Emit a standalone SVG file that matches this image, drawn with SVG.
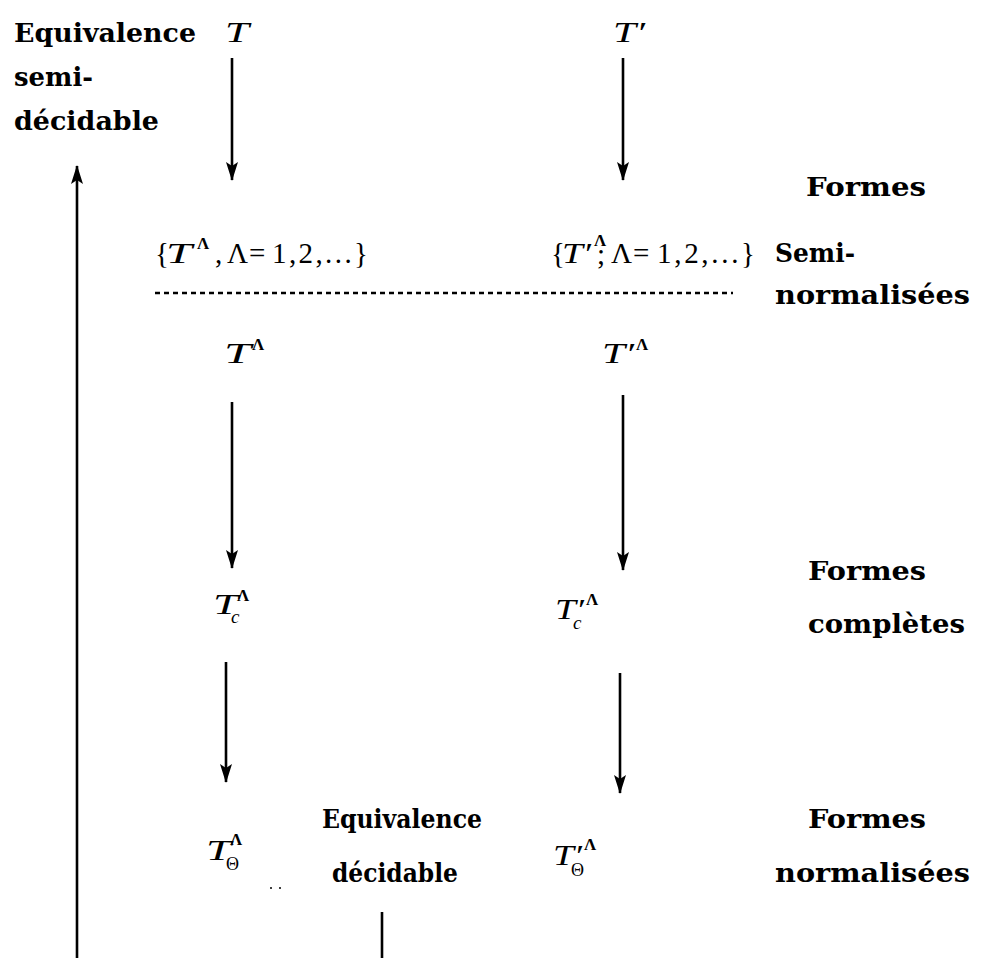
<svg xmlns="http://www.w3.org/2000/svg" width="992" height="958" viewBox="0 0 992 958">
<style>
.lbl{font-family:"DejaVu Serif","Liberation Serif",serif;font-weight:bold;font-size:26px;fill:#000}
.mi{font-family:"Liberation Serif",serif;font-style:italic;font-size:30px;fill:#000}
.mr{font-family:"Liberation Serif",serif;font-size:29px;fill:#000}
.sup{font-family:"Liberation Serif",serif;font-size:17px;font-weight:bold;fill:#000}
.sub{font-family:"Liberation Serif",serif;font-style:italic;font-size:19px;fill:#000}
.subr{font-family:"Liberation Serif",serif;font-size:18px;fill:#000}
.conn line{stroke:#000;stroke-width:2.6}
</style>
<defs>
<marker id="ah" viewBox="0 0 19 12" refX="18" refY="6" markerWidth="19" markerHeight="12" markerUnits="userSpaceOnUse" orient="auto">
<path d="M0,0 L4,6 L0,12 L19,6 Z" fill="#000"/>
</marker>
</defs>
<rect width="992" height="958" fill="#fff"/>

<g id="label-semidecidable">
<text class="lbl" x="14" y="42" textLength="182" lengthAdjust="spacingAndGlyphs">Equivalence</text>
<text class="lbl" x="14" y="86" textLength="79" lengthAdjust="spacingAndGlyphs">semi-</text>
<text class="lbl" x="14" y="130" textLength="145" lengthAdjust="spacingAndGlyphs">décidable</text>
</g>
<g id="node-T"><text class="mi" x="225" y="42" textLength="24" lengthAdjust="spacingAndGlyphs">T</text></g>
<g id="node-Tp"><text class="mi" x="613" y="42" textLength="32" lengthAdjust="spacingAndGlyphs">T′</text></g>

<g id="label-semi-normalisees">
<text class="lbl" x="806" y="196" textLength="120" lengthAdjust="spacingAndGlyphs">Formes</text>
<text class="lbl" x="775" y="262" textLength="80" lengthAdjust="spacingAndGlyphs">Semi-</text>
<text class="lbl" x="775" y="304" textLength="195" lengthAdjust="spacingAndGlyphs">normalisées</text>
</g>

<g id="node-set-T">
<text class="mr" x="155" y="263">{</text>
<text class="mi" x="166" y="263" textLength="26" lengthAdjust="spacingAndGlyphs">T</text>
<text class="sup" x="197" y="249">Λ</text>
<text class="mr" x="215" y="263">,</text>
<text class="mr" x="227" y="263">Λ</text>
<text class="mr" x="249" y="263">=</text>
<text class="mr" x="272" y="263" textLength="96">1,2,...}</text>
</g>
<g id="node-set-Tp">
<text class="mr" x="551" y="263">{</text>
<text class="mi" x="562" y="263" textLength="29" lengthAdjust="spacingAndGlyphs">T′</text>
<text class="sup" x="594" y="246">Λ</text>
<text class="mr" x="597" y="264">;</text>
<text class="mr" x="611" y="263">Λ</text>
<text class="mr" x="633" y="263">=</text>
<text class="mr" x="657" y="263" textLength="98">1,2,...}</text>
</g>

<g id="node-TL">
<text class="mi" x="224" y="363" textLength="27" lengthAdjust="spacingAndGlyphs">T</text>
<text class="sup" x="252" y="350">Λ</text>
</g>
<g id="node-TpL">
<text class="mi" x="602" y="363" textLength="32" lengthAdjust="spacingAndGlyphs">T′</text>
<text class="sup" x="636" y="350">Λ</text>
</g>

<g id="label-completes">
<text class="lbl" x="808" y="580" textLength="118" lengthAdjust="spacingAndGlyphs">Formes</text>
<text class="lbl" x="808" y="633" textLength="157" lengthAdjust="spacingAndGlyphs">complètes</text>
</g>
<g id="node-Tc">
<text class="mi" x="213" y="614" textLength="25" lengthAdjust="spacingAndGlyphs">T</text>
<text class="sup" x="237" y="601">Λ</text>
<text class="sub" x="231" y="623">c</text>
</g>
<g id="node-Tpc">
<text class="mi" x="555" y="619" textLength="29" lengthAdjust="spacingAndGlyphs">T′</text>
<text class="sup" x="586" y="605">Λ</text>
<text class="sub" x="573" y="629">c</text>
</g>

<g id="node-Ttheta">
<text class="mi" x="206" y="860" textLength="25" lengthAdjust="spacingAndGlyphs">T</text>
<text class="sup" x="230" y="845">Λ</text>
<text class="subr" x="226" y="870">Θ</text>
</g>
<g id="node-Tptheta">
<text class="mi" x="553" y="865" textLength="29" lengthAdjust="spacingAndGlyphs">T′</text>
<text class="sup" x="584" y="850">Λ</text>
<text class="subr" x="571" y="876">Θ</text>
</g>

<g id="label-decidable">
<text class="lbl" x="322" y="828" textLength="160" lengthAdjust="spacingAndGlyphs">Equivalence</text>
<text class="lbl" x="332" y="882" textLength="126" lengthAdjust="spacingAndGlyphs">décidable</text>
</g>
<g id="label-normalisees">
<text class="lbl" x="808" y="828" textLength="118" lengthAdjust="spacingAndGlyphs">Formes</text>
<text class="lbl" x="775" y="882" textLength="195" lengthAdjust="spacingAndGlyphs">normalisées</text>
</g>

<g id="dots">
<circle cx="271" cy="888" r="1" fill="#000"/>
<circle cx="280" cy="888" r="1" fill="#000"/>
</g>

<g id="connectors" class="conn">
<line x1="232" y1="58" x2="232" y2="180" marker-end="url(#ah)"/>
<line x1="623" y1="58" x2="623" y2="180" marker-end="url(#ah)"/>
<line x1="232" y1="402" x2="232" y2="568" marker-end="url(#ah)"/>
<line x1="623" y1="395" x2="623" y2="570" marker-end="url(#ah)"/>
<line x1="226" y1="662" x2="226" y2="782" marker-end="url(#ah)"/>
<line x1="620" y1="673" x2="620" y2="793" marker-end="url(#ah)"/>
<line x1="77" y1="958" x2="77" y2="166" marker-end="url(#ah)"/>
<line x1="382" y1="912" x2="382" y2="958"/>
<line x1="155" y1="293" x2="733" y2="293" stroke-width="2.5" stroke-dasharray="5 4"/>
</g>
</svg>
